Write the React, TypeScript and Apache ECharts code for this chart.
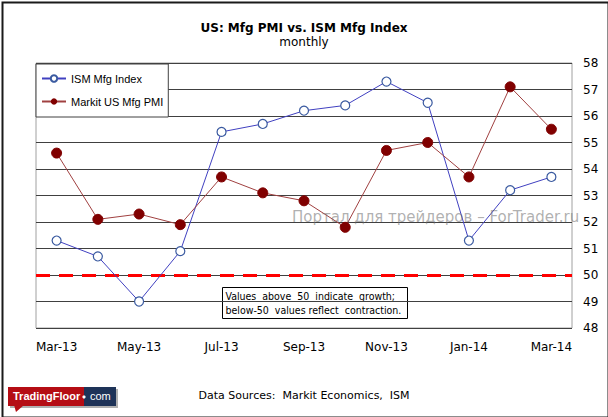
import React, { useEffect, useRef } from "react";
import * as echarts from "echarts";

const categories = ["Mar-13", "Apr-13", "May-13", "Jun-13", "Jul-13", "Aug-13", "Sep-13", "Oct-13", "Nov-13", "Dec-13", "Jan-14", "Feb-14", "Mar-14"];
const ismValues = [51.3, 50.7, 49.0, 50.9, 55.4, 55.7, 56.2, 56.4, 57.3, 56.5, 51.3, 53.2, 53.7];
const markitValues = [54.6, 52.1, 52.3, 51.9, 53.7, 53.1, 52.8, 51.8, 54.7, 55.0, 53.7, 57.1, 55.5];
const thresholdValue = 50;
const yMin = 48;
const yMax = 58;

const FONT = "'DejaVu Sans', sans-serif";

export default function App() {
  const ref = useRef<HTMLDivElement>(null);
  useEffect(() => {
    document.body.style.margin = "0";
    const chart = echarts.init(ref.current!, null, { renderer: "svg" });
    chart.setOption({
      animation: false,
      backgroundColor: "#ffffff",
      title: {
        text: "US: Mfg PMI vs. ISM Mfg Index",
        subtext: "monthly",
        left: "center",
        top: 17,
        itemGap: 2,
        textStyle: { fontFamily: FONT, fontSize: 12, fontWeight: "bold", color: "#000" },
        subtextStyle: { fontFamily: FONT, fontSize: 12, color: "#000" },
      },
      legend: {
        orient: "vertical",
        left: 36,
        top: 64,
        backgroundColor: "#ffffff",
        borderColor: "#404040",
        borderWidth: 1,
        padding: [9, 5, 10, 5],
        itemGap: 12,
        itemWidth: 24,
        itemHeight: 8,
        textStyle: { fontFamily: "'Liberation Sans', Arial, sans-serif", fontSize: 11, color: "#000" },
        data: ["ISM Mfg Index", "Markit US Mfg PMI"],
        z: 10,
      },
      grid: {
        left: 36,
        right: 36,
        top: 63,
        bottom: 89,
        show: true,
        borderColor: "#a0a0a0",
        borderWidth: 1,
      },
      xAxis: {
        type: "category",
        data: categories,
        boundaryGap: true,
        axisLine: { show: false },
        axisTick: { show: false },
        axisLabel: { interval: 1, fontFamily: FONT, fontSize: 12, color: "#000", margin: 13 },
        splitLine: { show: false },
      },
      yAxis: {
        type: "value",
        position: "right",
        min: yMin,
        max: yMax,
        interval: 1,
        axisLine: { show: false },
        axisTick: { show: false },
        axisLabel: { fontFamily: FONT, fontSize: 12, color: "#000", margin: 11 },
        splitLine: { lineStyle: { color: "#404040", width: 1 } },
      },
      series: [
        {
          name: "ISM Mfg Index",
          type: "line",
          data: ismValues,
          symbol: "circle",
          symbolSize: 9,
          lineStyle: { color: "#4040c0", width: 1 },
          itemStyle: { color: "#ffffff", borderColor: "#3a5aa0", borderWidth: 1.2 },
          z: 3,
          markLine: {
            silent: true,
            symbol: "none",
            label: { show: false },
            lineStyle: { color: "#ff0000", width: 3, type: [14, 9] },
            data: [{ yAxis: thresholdValue }],
            z: 2,
          },
        },
        {
          name: "Markit US Mfg PMI",
          type: "line",
          data: markitValues,
          symbol: "circle",
          symbolSize: 10,
          lineStyle: { color: "#a04040", width: 1 },
          itemStyle: { color: "#800000", borderColor: "#800000" },
          z: 3,
        },
      ],
      graphic: [
        {
          type: "group",
          left: 222,
          top: 287,
          z: 20,
          children: [
            { type: "rect", shape: { x: 0, y: 0, width: 185, height: 31 }, style: { fill: "#fff", stroke: "#000", lineWidth: 1 } },
            {
              type: "text",
              x: 3,
              y: 2,
              style: {
                text: "Values  above  50  indicate  growth;\nbelow-50  values reflect  contraction.",
                font: "10.5px 'DejaVu Sans Condensed', 'DejaVu Sans', sans-serif",
                fill: "#000",
                lineHeight: 13.5,
              },
            },
          ],
        },
        {
          type: "text",
          left: "center",
          top: 390,
          style: { text: "Data Sources:  Markit Economics,  ISM", font: "11px 'DejaVu Sans', sans-serif", fill: "#000" },
        },
        {
          type: "group",
          left: 8,
          top: 387,
          children: [
            { type: "rect", shape: { x: 2, y: 2, width: 108, height: 19 }, style: { fill: "#b0b0b0" } },
            { type: "polygon", shape: { points: [[6, 18], [16, 18], [8, 25]] }, style: { fill: "#b50d14" } },
            { type: "rect", shape: { x: 0, y: 0, width: 76, height: 19 }, style: { fill: "#b50d14" } },
            { type: "rect", shape: { x: 76, y: 0, width: 32, height: 19 }, style: { fill: "#1e3358" } },
            { type: "text", x: 5, y: 3, style: { text: "TradingFloor", font: "bold 11px 'Liberation Sans', Arial, sans-serif", fill: "#fff" } },
            { type: "circle", shape: { cx: 76, cy: 10, r: 1.6 }, style: { fill: "#fff" } },
            { type: "text", x: 82, y: 3, style: { text: "com", font: "11px 'Liberation Sans', Arial, sans-serif", fill: "#fff" } },
          ],
        },
        {
          type: "text",
          left: 292,
          top: 209,
          z: 30,
          style: { text: "Портал для трейдеров – ForTrader.ru", font: "15px 'DejaVu Sans', sans-serif", fill: "rgba(110,110,110,0.55)" },
        },
        {
          type: "rect",
          left: 0,
          top: 0,
          z: 40,
          shape: { x: 0, y: 0, width: 606, height: 415 },
          style: { fill: "none", stroke: "#1a1a1a", lineWidth: 2 },
        },
      ],
    });
    return () => chart.dispose();
  }, []);
  return <div ref={ref} style={{ width: 608, height: 417 }} />;
}
